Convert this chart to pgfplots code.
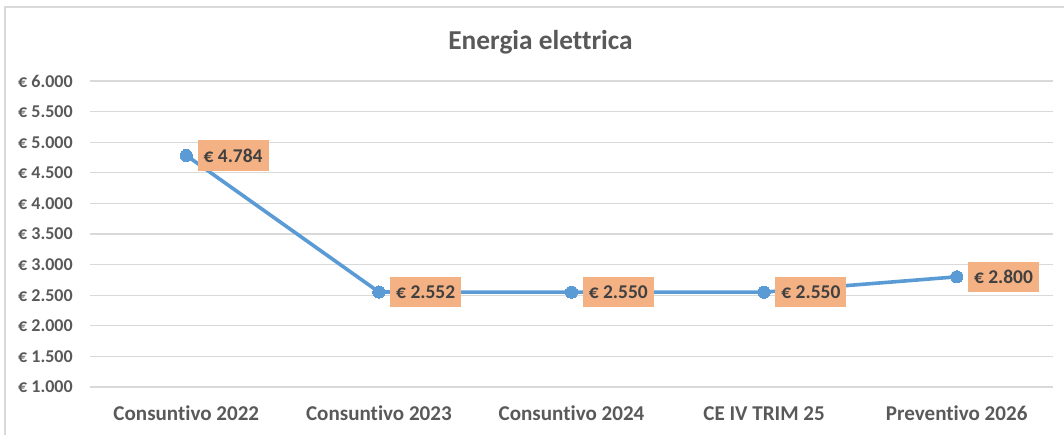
\documentclass[border=0pt]{standalone}
\usepackage{pgfplots}
\pgfplotsset{compat=1.18}
\usepackage{fontspec}
\setmainfont{Carlito}[Ligatures={NoCommon}]
\definecolor{linec}{HTML}{5B9BD5}
\definecolor{gridc}{HTML}{D9D9D9}
\definecolor{txt}{HTML}{595959}
\definecolor{lbl}{HTML}{404040}
\definecolor{boxc}{HTML}{F4B183}
\begin{document}
\begin{tikzpicture}
\useasboundingbox (-67.5pt,-36pt) rectangle (730.5pt,290.25pt);
\draw[gridc, line width=1pt] (-63.75pt,-36pt) -- (-63.75pt,285pt) -- (731pt,285pt);
\begin{axis}[
  at={(0pt,0pt)}, anchor=south west,
  scale only axis, width=722.25pt, height=229.5pt,
  xmin=-0.5, xmax=4.5, ymin=1000, ymax=6000,
  ytick={1000,1500,2000,2500,3000,3500,4000,4500,5000,5500,6000},
  yticklabels={€ 1.000,€ 1.500,€ 2.000,€ 2.500,€ 3.000,€ 3.500,€ 4.000,€ 4.500,€ 5.000,€ 5.500,€ 6.000},
  xtick={0,1,2,3,4},
  xticklabels={Consuntivo 2022,Consuntivo 2023,Consuntivo 2024,CE IV TRIM 25,Preventivo 2026},
  axis line style={draw=none}, major tick length=0pt,
  ymajorgrids, grid style={gridc, line width=0.9pt},
  yticklabel style={anchor=east, inner sep=0pt, xshift=-12.75pt, text=txt, font=\fontsize{13.5}{16}\selectfont\bfseries},
  xticklabel style={anchor=base, inner sep=0pt, yshift=-25.5pt, text=txt, font=\fontsize{15.8}{18}\selectfont\bfseries},
  clip=false,
  point meta=explicit symbolic,
  nodes near coords,
  nodes near coords style={anchor=west, xshift=8.5pt, fill=boxc, inner xsep=4.5pt, inner ysep=0pt, minimum height=23pt, text=lbl, font=\fontsize{14.6}{17}\selectfont\bfseries},
]
\addplot[linec, line width=2.7pt, mark=*, mark size=4.6pt, mark options={fill=linec, draw=linec, line width=0pt}]
coordinates {
  (0,4784) [€ 4.784]
  (1,2552) [€ 2.552]
  (2,2550) [€ 2.550]
  (3,2550) [€ 2.550]
  (4,2800) [€ 2.800]
};
\end{axis}
\node[anchor=base, text=txt, font=\fontsize{20.5}{24}\selectfont\bfseries] at (337.9pt,253.3pt) {Energia elettrica};
\end{tikzpicture}
\end{document}
